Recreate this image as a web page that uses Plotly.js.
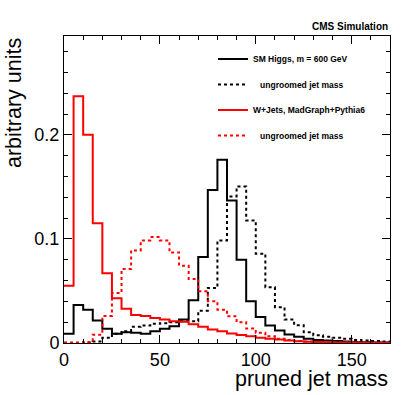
<!DOCTYPE html>
<html>
<head>
<meta charset="utf-8">
<script src="https://cdn.plot.ly/plotly-3.0.1.min.js"></script>
<style>
  body { margin: 0; background: #fff; }
  #plot { width: 407px; height: 395px; }
</style>
</head>
<body>
<div id="plot"></div>
<script>
// bin low edges (5 GeV bins) plus the final upper edge
const massEdges = [0, 5, 10, 15, 20, 25, 30, 35, 40, 45, 50, 55, 60, 65, 70, 75, 80, 85,
  90, 95, 100, 105, 110, 115, 120, 125, 130, 135, 140, 145, 150, 155, 160, 165, 170];

const higgsPruned = [0.0088, 0.0366, 0.032, 0.0216, 0.0136, 0.009, 0.0104, 0.0098, 0.009,
  0.0113, 0.0136, 0.016, 0.0225, 0.041, 0.0826, 0.147, 0.176, 0.137, 0.080, 0.040, 0.0251,
  0.0168, 0.012, 0.0081, 0.0059, 0.004, 0.003, 0.0025, 0.002, 0.0015, 0.001, 0.0008, 0.0005, 0.0004];

const higgsUngroomed = [0, 0, 0.0003, 0.0015, 0.005, 0.009, 0.0113, 0.0155, 0.0168, 0.0184,
  0.019, 0.02, 0.021, 0.021, 0.031, 0.0529, 0.0986, 0.1408, 0.1504, 0.1178, 0.0858, 0.0535,
  0.0344, 0.0225, 0.0171, 0.0104, 0.0075, 0.006, 0.005, 0.004, 0.003, 0.0025, 0.002, 0.0015];

const wjetsPruned = [0.055, 0.237, 0.200, 0.115, 0.067, 0.043, 0.033, 0.027, 0.026, 0.024,
  0.0225, 0.021, 0.0205, 0.018, 0.0155, 0.013, 0.0113, 0.0092, 0.0076, 0.0065, 0.005, 0.004,
  0.0034, 0.0025, 0.0018, 0.0013, 0.001, 0.0008, 0.0006, 0.0005, 0.0004, 0.0003, 0.0003, 0.0002];

const wjetsUngroomed = [0.0005, 0.0005, 0.001, 0.008, 0.026, 0.048, 0.071, 0.089, 0.0986,
  0.1018, 0.0986, 0.087, 0.0743, 0.0615, 0.0497, 0.040, 0.032, 0.0257, 0.020, 0.0139, 0.0098,
  0.0065, 0.004, 0.0028, 0.002, 0.0015, 0.001, 0.0008, 0.0006, 0.0005, 0.0004, 0.0003, 0.0002, 0.0002];

const seriesNames = [
  "SM Higgs, m = 600 GeV",
  "\u00a0\u00a0 ungroomed jet mass",
  "W+Jets, MadGraph+Pythia6",
  "\u00a0\u00a0 ungroomed jet mass"
];

const FONT = "Liberation Sans, Arial, Helvetica, sans-serif";

// step histogram: repeat last bin content so the final bin is closed at the upper edge
function histTrace(values, name, color, dash) {
  return {
    x: massEdges,
    y: values.concat([values[values.length - 1]]),
    type: "scatter",
    mode: "lines",
    line: { shape: "hv", color: color, width: 2, dash: dash },
    name: name,
    legendgroup: name + color + dash,
    hoverinfo: "skip"
  };
}

const data = [
  histTrace(higgsPruned, seriesNames[0], "#000000", "solid"),
  histTrace(higgsUngroomed, seriesNames[1], "#000000", "3px,3px"),
  histTrace(wjetsPruned, seriesNames[2], "#ff0000", "solid"),
  histTrace(wjetsUngroomed, seriesNames[3], "#ff0000", "3px,3px")
];

const axisCommon = {
  showline: true,
  linecolor: "#000",
  linewidth: 1,
  mirror: "allticks",
  ticks: "inside",
  ticklen: 8,
  tickcolor: "#000",
  showgrid: false,
  zeroline: false,
  tickfont: { family: FONT, size: 18, color: "#000" },
  fixedrange: true
};

const layout = {
  width: 407,
  height: 395,
  margin: { l: 64, r: 17, t: 36, b: 52 },
  paper_bgcolor: "#fff",
  plot_bgcolor: "#fff",
  showlegend: true,
  legend: {
    x: 0.457, xanchor: "left",
    y: 0.972, yanchor: "top",
    bgcolor: "rgba(0,0,0,0)",
    borderwidth: 0,
    traceorder: "grouped",
    tracegroupgap: 6.5,
    font: { family: FONT, size: 8.5, color: "#000", weight: "bold" }
  },
  xaxis: Object.assign({}, axisCommon, {
    range: [0, 170],
    tickvals: [0, 50, 100, 150],
    minor: { dtick: 10, ticks: "inside", ticklen: 4, tickcolor: "#000", showgrid: false }
  }),
  yaxis: Object.assign({}, axisCommon, {
    range: [0, 0.295],
    tickvals: [0, 0.1, 0.2],
    ticktext: ["0", "0.1", "0.2"],
    minor: { dtick: 0.02, ticks: "inside", ticklen: 4, tickcolor: "#000", showgrid: false }
  }),
  annotations: [
    {
      text: "CMS Simulation", xref: "paper", yref: "paper",
      x: 1, xanchor: "right", y: 1.0, yanchor: "bottom", yshift: 2,
      showarrow: false, font: { family: FONT, size: 10, color: "#000", weight: "bold" }
    },
    {
      text: "pruned jet mass", xref: "paper", yref: "paper",
      x: 1, xanchor: "right", y: 0, yanchor: "top", yshift: -22,
      showarrow: false, font: { family: FONT, size: 21.5, color: "#000" }
    },
    {
      text: "arbitrary units", xref: "paper", yref: "paper", textangle: -90,
      x: 0, xanchor: "right", xshift: -36, y: 1, yanchor: "top",
      showarrow: false, font: { family: FONT, size: 21.5, color: "#000" }
    }
  ]
};

Plotly.newPlot("plot", data, layout, { displayModeBar: false, staticPlot: true });
</script>
</body>
</html>
